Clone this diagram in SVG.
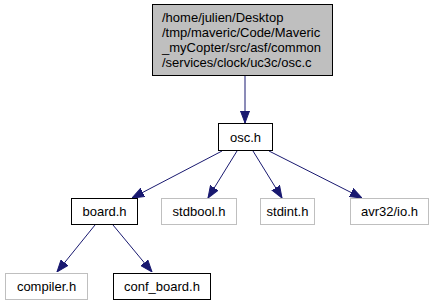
<svg xmlns="http://www.w3.org/2000/svg" width="434" height="305" viewBox="0 0 434 305">
  <style>
    .node rect { stroke-width: 1; }
    .main rect { fill: #bfbfbf; stroke: #000000; }
    .local rect { fill: #ffffff; stroke: #000000; }
    .sys rect { fill: #ffffff; stroke: #bfbfbf; }
    text { font-family: "Liberation Sans", Arial, Helvetica, sans-serif; font-size: 13px; fill: #000000; }
    .c { text-anchor: middle; }
    .edge { fill: none; stroke: #191970; stroke-width: 1; }
  </style>
  <defs>
    <marker id="arrow" viewBox="0 0 12 10" refX="12" refY="5" markerWidth="12" markerHeight="10" markerUnits="userSpaceOnUse" orient="auto">
      <path d="M0,0.5 L12,5 L0,9.5 Z" fill="#191970" stroke="#191970"/>
    </marker>
  </defs>
  <rect width="434" height="305" fill="#ffffff"/>

  <!-- include edges -->
  <g id="edges">
    <path class="edge" marker-end="url(#arrow)" d="M245,76 L245,123"/>
    <path class="edge" marker-end="url(#arrow)" d="M222,151 L132,198"/>
    <path class="edge" marker-end="url(#arrow)" d="M237,151 L208,198"/>
    <path class="edge" marker-end="url(#arrow)" d="M253,151 L282,198"/>
    <path class="edge" marker-end="url(#arrow)" d="M269,151 L362,198"/>
    <path class="edge" marker-end="url(#arrow)" d="M95,225 L57,272"/>
    <path class="edge" marker-end="url(#arrow)" d="M113,225 L152,272"/>
  </g>

  <g id="node_osc_c" class="node main">
    <rect x="152.5" y="4.5" width="180" height="71"/>
    <text x="162" y="22">/home/julien/Desktop</text>
    <text x="162" y="37">/tmp/maveric/Code/Maveric</text>
    <text x="162" y="52">_myCopter/src/asf/common</text>
    <text x="162" y="67">/services/clock/uc3c/osc.c</text>
  </g>

  <g id="node_osc_h" class="node local">
    <rect x="218.5" y="123.5" width="54" height="27"/>
    <text class="c" x="245.5" y="141.5">osc.h</text>
  </g>

  <g id="node_board_h" class="node local">
    <rect x="71.5" y="198.5" width="66" height="26"/>
    <text class="c" x="104.5" y="216">board.h</text>
  </g>

  <g id="node_stdbool_h" class="node sys">
    <rect x="161.5" y="198.5" width="75" height="26"/>
    <text class="c" x="199" y="216">stdbool.h</text>
  </g>

  <g id="node_stdint_h" class="node sys">
    <rect x="260.5" y="198.5" width="54" height="26"/>
    <text class="c" x="287.5" y="216">stdint.h</text>
  </g>

  <g id="node_avr32_io_h" class="node sys">
    <rect x="350.5" y="198.5" width="78" height="26"/>
    <text class="c" x="389.5" y="216">avr32/io.h</text>
  </g>

  <g id="node_compiler_h" class="node sys">
    <rect x="5.5" y="273.5" width="82" height="26"/>
    <text class="c" x="46.5" y="291">compiler.h</text>
  </g>

  <g id="node_conf_board_h" class="node local">
    <rect x="113.5" y="273.5" width="97" height="26"/>
    <text class="c" x="162" y="291">conf_board.h</text>
  </g>
</svg>
